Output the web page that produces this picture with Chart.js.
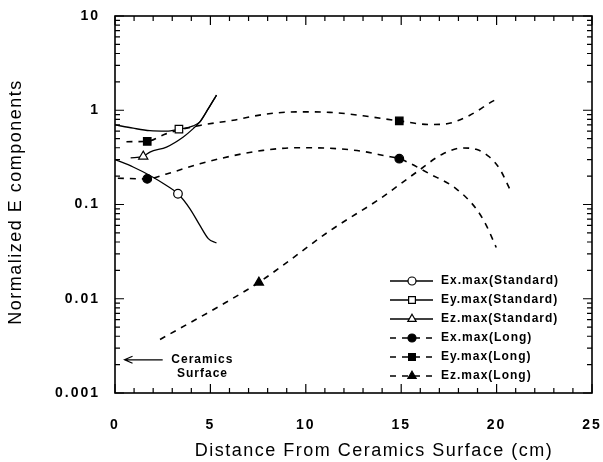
<!DOCTYPE html>
<html>
<head>
<meta charset="utf-8">
<script src="https://cdn.jsdelivr.net/npm/chart.js@4.4.1/dist/chart.umd.min.js"></script>
<style>
  html, body { margin: 0; padding: 0; background: #fff; }
</style>
</head>
<body>
<canvas id="myChart" width="603" height="462"></canvas>
<script>
// values (x in cm, y normalized)
const exStdX = [0, 0.95, 1.83, 2.7, 3.3, 3.93, 4.45, 4.89, 5.32]
const exStdY = [0.30, 0.25, 0.203, 0.159, 0.13, 0.09, 0.06, 0.0435, 0.039]
const exStdMark = [4]

const eyStdX = [0, 0.95, 1.83, 2.7, 3.35, 4.1, 4.45, 4.89, 5.32]
const eyStdY = [0.70, 0.645, 0.607, 0.60, 0.63, 0.683, 0.753, 1.04, 1.45]
const eyStdMark = [4]

const ezStdX = [0.82, 1.48, 1.83, 2.7, 3.58, 4.1, 4.45, 4.89, 5.32]
const ezStdY = [0.313, 0.324, 0.36, 0.407, 0.521, 0.638, 0.753, 1.04, 1.45]
const ezStdMark = [1]

const exLongX = [0.15, 1.69, 2.7, 4.45, 6.2, 7.76, 9.5, 11.26, 13.0, 14.2, 14.9, 16.5, 17.9, 18.93, 19.46, 19.98]
const exLongY = [0.19, 0.187, 0.211, 0.27, 0.33, 0.375, 0.40, 0.395, 0.366, 0.327, 0.306, 0.211, 0.146, 0.09, 0.06, 0.035]
const exLongMark = [1, 10]

const eyLongX = [0.6, 1.69, 2.7, 4.45, 6.2, 7.76, 9.5, 11.26, 13.0, 14.9, 16.5, 17.4, 18.6, 19.8, 20.05]
const eyLongY = [0.464, 0.468, 0.565, 0.69, 0.783, 0.90, 0.962, 0.95, 0.873, 0.771, 0.705, 0.72, 0.885, 1.25, 1.33]
const eyLongMark = [1, 9]

const ezLongX = [2.36, 5.67, 7.54, 8.64, 11.26, 13.87, 15.8, 17.2, 18.24, 18.93, 19.63, 20.16, 20.77]
const ezLongY = [0.0037, 0.0088, 0.0149, 0.0214, 0.0526, 0.1145, 0.22, 0.346, 0.398, 0.385, 0.319, 0.239, 0.135]
const ezLongMark = [2]

const yTicks = [0.001, 0.01, 0.1, 1, 10]
const yTickLabels = ['0.001', '0.01', '0.1', '1', '10']

const FONT = "'Liberation Sans', Arial, sans-serif"

function series(label, xs, ys, marks, style, filled, dashed) {
  return {
    label: label,
    data: xs.map((v, i) => ({x: v, y: ys[i]})),
    showLine: true,
    borderColor: '#000',
    borderWidth: dashed ? 1.6 : 1.3,
    borderDash: dashed ? [6, 6] : [],
    cubicInterpolationMode: 'monotone',
    pointStyle: style,
    pointRadius: c => marks.includes(c.dataIndex) ? (style == 'circle' ? 4.3 : 5.3) : 0,
    pointHoverRadius: 0,
    pointBackgroundColor: filled ? '#000' : '#fff',
    pointBorderColor: '#000',
    pointBorderWidth: 1.2,
    fill: false
  }
}

const data = {
  datasets: [
    series('Ex.max(Standard)', exStdX, exStdY, exStdMark, 'circle', false, false),
    series('Ey.max(Standard)', eyStdX, eyStdY, eyStdMark, 'rect', false, false),
    series('Ez.max(Standard)', ezStdX, ezStdY, ezStdMark, 'triangle', false, false),
    series('Ex.max(Long)', exLongX, exLongY, exLongMark, 'circle', true, true),
    series('Ey.max(Long)', eyLongX, eyLongY, eyLongMark, 'rect', true, true),
    series('Ez.max(Long)', ezLongX, ezLongY, ezLongMark, 'triangle', true, true)
  ]
}

// frame, inward ticks, legend box, titles, annotation
const decorations = {
  id: 'decorations',
  beforeDraw(chart) {
    chart.ctx.letterSpacing = '2px'
  },
  afterDraw(chart) {
    const ctx = chart.ctx
    const a = chart.chartArea
    const x = chart.scales.x
    const y = chart.scales.y
    ctx.save()
    ctx.strokeStyle = '#000'
    ctx.lineWidth = 1.6
    ctx.strokeRect(a.left, a.top, a.right - a.left, a.bottom - a.top)

    ctx.lineWidth = 1.2
    ctx.beginPath()
    for (let v = 0; v <= 25; v++) {
      const px = x.getPixelForValue(v)
      const len = v % 5 == 0 ? 9 : 5
      ctx.moveTo(px, a.bottom); ctx.lineTo(px, a.bottom - len)
      ctx.moveTo(px, a.top); ctx.lineTo(px, a.top + len)
    }
    for (let e = -3; e <= 1; e++) {
      for (let m = 1; m <= 9; m++) {
        if (e == 1 && m > 1) break
        const py = y.getPixelForValue(m * Math.pow(10, e))
        const len = m == 1 ? 9 : 5
        ctx.moveTo(a.left, py); ctx.lineTo(a.left + len, py)
        ctx.moveTo(a.right, py); ctx.lineTo(a.right - len, py)
      }
    }
    ctx.stroke()

    // axis titles
    ctx.fillStyle = '#000'
    ctx.letterSpacing = '1.5px'
    ctx.font = '18px ' + FONT
    ctx.textAlign = 'center'
    ctx.textBaseline = 'middle'
    ctx.fillText('Distance From Ceramics Surface (cm)', 374, 451)
    ctx.save()
    ctx.translate(16, 202)
    ctx.rotate(-Math.PI / 2)
    ctx.fillText('Normalized E components', 0, 0)
    ctx.restore()

    // legend
    ctx.font = 'bold 12px ' + FONT
    ctx.letterSpacing = '1px'
    ctx.textAlign = 'left'
    chart.data.datasets.forEach((ds, i) => {
      const ly = 281 + i * 19
      ctx.beginPath()
      ctx.lineWidth = ds.borderWidth
      ctx.setLineDash(ds.borderDash)
      ctx.moveTo(390, ly); ctx.lineTo(433, ly)
      ctx.stroke()
      ctx.setLineDash([])
      ctx.fillStyle = ds.pointBackgroundColor
      ctx.lineWidth = 1.2
      Chart.helpers.drawPoint(ctx, {pointStyle: ds.pointStyle, radius: ds.pointStyle == 'circle' ? 4 : 4.8, borderWidth: 1.2, rotation: 0}, 412, ly)
      ctx.fillStyle = '#000'
      ctx.fillText(ds.label, 441, ly)
    })

    // ceramics surface annotation
    const ay = y.getPixelForValue(0.00225)
    const ax0 = x.getPixelForValue(2.5)
    const ax1 = x.getPixelForValue(0.5)
    ctx.lineWidth = 1.2
    ctx.beginPath()
    ctx.moveTo(ax0, ay); ctx.lineTo(ax1, ay)
    ctx.moveTo(ax1 + 8, ay - 3.5); ctx.lineTo(ax1, ay); ctx.lineTo(ax1 + 8, ay + 3.5)
    ctx.stroke()
    ctx.fillText('Ceramics', x.getPixelForValue(2.95), ay)
    ctx.fillText('Surface', x.getPixelForValue(3.25), y.getPixelForValue(0.0016))
    ctx.restore()
  }
}

const config = {
  type: 'scatter',
  data: data,
  options: {
    responsive: false,
    animation: false,
    devicePixelRatio: 1,
    layout: {padding: {top: 16, right: 11, left: 0, bottom: 0}},
    plugins: {
      legend: {display: false},
      tooltip: {enabled: false}
    },
    scales: {
      x: {
        type: 'linear',
        min: 0,
        max: 25,
        grid: {display: false, drawTicks: false},
        border: {display: false},
        ticks: {
          stepSize: 5,
          color: '#000',
          padding: 24,
          font: {family: FONT, size: 14, weight: 'bold'}
        },
        afterFit: s => { s.height = 69; s.paddingLeft = 0; s.paddingRight = 0 }
      },
      y: {
        type: 'logarithmic',
        min: 0.001,
        max: 10,
        grid: {display: false, drawTicks: false},
        border: {display: false},
        afterBuildTicks: s => { s.ticks = yTicks.map(v => ({value: v})) },
        ticks: {
          color: '#000',
          padding: 15,
          font: {family: FONT, size: 14, weight: 'bold'},
          callback: v => yTickLabels[yTicks.indexOf(v)]
        },
        afterFit: s => { s.width = 115; s.paddingTop = 0; s.paddingBottom = 0 }
      }
    }
  },
  plugins: [decorations]
}

const myChart = new Chart(document.getElementById('myChart'), config)
</script>
</body>
</html>
